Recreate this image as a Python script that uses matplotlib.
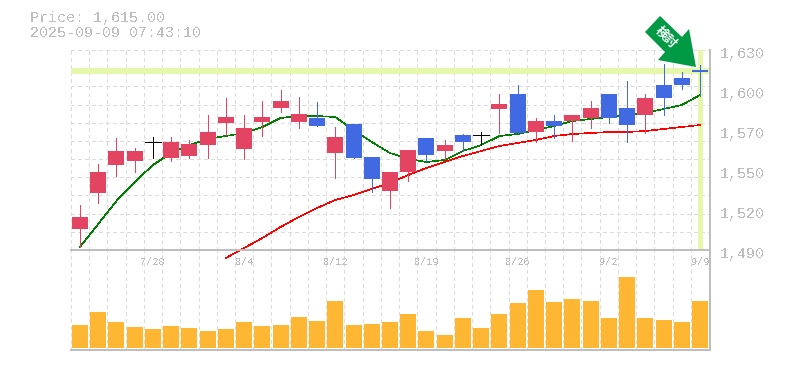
"""
Candlestick chart with moving averages and a volume panel
"""

import numpy as np
import matplotlib
matplotlib.use('Agg')
import matplotlib.pyplot as plt
from matplotlib.patches import Polygon
from matplotlib.transforms import ScaledTranslation

# -------------- data --------------
opens = [1504.7, 1529.9, 1549.5, 1552.3, 1565.6, 1554.4, 1555.8, 1563.5, 1578.9, 1560.7,
         1579.6, 1589.4, 1579.6, 1582.4, 1557.9, 1578.2, 1555.1, 1531.3, 1544.6, 1568.4,
         1559.3, 1570.5, 1570.5, 1588.7, 1599.2, 1572.6, 1580.3, 1580.3, 1582.4, 1599.2,
         1589.4, 1584.5, 1605.5, 1610.4, 1616.0]
highs = [1521.5, 1550.2, 1568.4, 1561.4, 1569.1, 1569.1, 1567.0, 1584.5, 1596.4, 1584.5,
         1594.3, 1602.0, 1597.1, 1593.6, 1576.1, 1578.2, 1555.1, 1544.6, 1560.0, 1568.4,
         1567.0, 1571.2, 1572.6, 1599.2, 1605.5, 1582.4, 1584.5, 1584.5, 1594.3, 1599.2,
         1608.3, 1599.2, 1620.2, 1614.6, 1619.5]
lows = [1492.1, 1522.9, 1541.8, 1544.6, 1554.4, 1552.3, 1554.4, 1554.4, 1570.5, 1553.7,
        1569.8, 1586.6, 1575.4, 1576.8, 1540.4, 1554.4, 1530.6, 1519.4, 1538.3, 1552.3,
        1553.7, 1559.3, 1563.5, 1571.9, 1571.9, 1565.6, 1568.4, 1566.3, 1575.4, 1578.9,
        1565.6, 1571.9, 1584.5, 1602.7, 1597.8]
closes = [1513.1, 1544.6, 1559.3, 1559.3, 1565.6, 1565.6, 1564.2, 1572.6, 1583.1, 1575.4,
          1583.1, 1594.3, 1585.2, 1576.8, 1569.1, 1554.4, 1539.7, 1544.6, 1560.0, 1556.5,
          1563.5, 1565.6, 1570.5, 1592.2, 1571.9, 1580.3, 1576.8, 1584.5, 1589.4, 1582.4,
          1577.5, 1596.4, 1596.4, 1605.5, 1614.6]
ma_short = [1492.1, 1508.2, 1524.3, 1537.6, 1549.5, 1557.9, 1563.5, 1567.7, 1569.8, 1571.9,
            1576.1, 1582.4, 1583.8, 1583.8, 1583.1, 1574.0, 1565.6, 1557.9, 1553.7, 1551.6,
            1553.0, 1559.3, 1563.5, 1569.8, 1571.2, 1574.0, 1576.8, 1580.3, 1581.7, 1583.1,
            1584.5, 1585.9, 1588.7, 1591.5, 1598.5]
ma_long = [1484.4, 1491.4, 1498.4, 1506.1, 1513.1, 1519.4, 1525.0, 1528.5, 1532.7, 1536.9,
           1542.5, 1547.4, 1551.6, 1555.8, 1559.3, 1562.8, 1564.9, 1567.0, 1569.8, 1571.2,
           1571.9, 1572.6, 1572.6, 1573.3, 1574.7, 1576.1, 1577.5]
ma_long_start = 8
volume = [23, 36, 26, 21, 19, 22, 20, 17, 19, 26, 22, 23, 31, 27, 47, 23, 24, 26,
          34, 17, 13, 30, 20, 34, 45, 58, 46, 49, 47, 30, 71, 30, 28, 26, 47]
price_ticks = [1490, 1518, 1546, 1574, 1602, 1630]
price_labels = ['1,490', '1,520', '1,550', '1,570', '1,600', '1,630']
date_ticks = [4, 9, 14, 19, 24, 29, 34]
date_labels = ['7/28', '8/4', '8/12', '8/19', '8/26', '9/2', '9/9']
last_price = 1615

# -------------- styles --------------
W, H = 785, 370
RED = '#E24462'
BLUE = '#4169E1'
GREY = '#BEBEBE'
GRID = '#DCDCDC'
HILITE = '#E4F7AA'
THIN = 0.72  # 1 pixel at 100 dpi
MA_LW = 0.45  # non antialiased curves come out heavier than their width

plt.rcParams['font.family'] = ['Liberation Mono', 'DejaVu Sans Mono']
plt.rcParams['text.antialiased'] = False
plt.rcParams['lines.antialiased'] = False
plt.rcParams['patch.antialiased'] = False


def px_axes(fig, left, top, right, bottom):
    return fig.add_axes([left / W, 1 - bottom / H, (right - left) / W, (bottom - top) / H])


def main():
    fig = plt.figure(figsize=(W / 100, H / 100), dpi=100)
    ax = px_axes(fig, 70.5, 50, 709.5, 250)
    vol = px_axes(fig, 70.5, 250, 709.5, 350)

    xs = np.arange(len(closes))
    for a in (ax, vol):
        a.set_xlim(-0.52, 34.52)
        a.patch.set_visible(False)
        a.set_axisbelow(True)
        a.set_xticks(np.r_[xs - 0.5, 34.5], minor=True)
        a.set_xticks([])
        a.grid(True, which='minor', axis='x', color=GRID, lw=THIN, ls=(0, (4, 3)))
        a.tick_params(which='both', length=0)
        for s in a.spines.values():
            s.set_color(GREY)
            s.set_linewidth(1.1)
    ax.set_zorder(2)

    # price panel
    ax.set_ylim(1490, 1630)
    ax.set_yticks(np.linspace(1490, 1630, 12))
    ax.grid(True, axis='y', color=GRID, lw=THIN, ls=(0, (4, 3)))
    ax.set_yticklabels([])
    ax.spines['top'].set_visible(False)
    ax.spines['left'].set_visible(False)

    ax.axhline(last_price, color=HILITE, lw=3, zorder=1)
    ax.axvline(xs[-1], color=HILITE, lw=2.2, zorder=1)

    ax.plot(xs, ma_short, color='#008000', lw=MA_LW, zorder=2)
    ax.plot(xs[ma_long_start:], ma_long, color='#FF0000', lw=MA_LW, zorder=2, clip_on=False)

    for x, o, h, l, c in zip(xs, opens, highs, lows, closes):
        color = 'black' if o == c else (RED if c > o else BLUE)
        ax.vlines(x, l, h, color=color, lw=THIN, zorder=3)
        if o == c:
            ax.hlines(c, x - 0.44, x + 0.44, color=color, lw=THIN, zorder=3)
        else:
            ax.bar(x, abs(c - o), bottom=min(o, c), width=0.88, color=color, zorder=4)

    # right hand labels sit a little under their tick
    label_shift = ScaledTranslation(10.5 / 100, -4 / 100, fig.dpi_scale_trans)
    for v, label in zip(price_ticks, price_labels):
        ax.text(1, v, label, transform=ax.get_yaxis_transform() + label_shift,
                color=GREY, fontsize=10.8, va='center', ha='left', clip_on=False)

    # volume panel
    vol.set_ylim(-2, 98)
    vol.set_yticks([])
    vol.bar(xs, volume, width=0.88, color='#FFB733', zorder=3)
    vol.spines['left'].set_visible(False)
    for x, label in zip(date_ticks, date_labels):
        vol.annotate(label, xy=(x, 1), xycoords=('data', 'axes fraction'),
                     xytext=(0, -12), textcoords='offset pixels',
                     ha='center', va='center', color=GREY, fontsize=7.4)

    # header
    fig.text(30 / W, 1 - 18 / H, 'Price: 1,615.00', color=GREY, fontsize=10.8, va='center')
    fig.text(30 / W, 1 - 33 / H, '2025-09-09 07:43:10', color=GREY, fontsize=10.8, va='center')

    # arrow marker pointing at the latest price
    arrow_px = [(660, 16), (645, 32), (665, 52), (658, 60), (696, 67), (689, 29), (682, 37)]
    arrow = Polygon([(x / W, 1 - y / H) for x, y in arrow_px], closed=True,
                    transform=fig.transFigure, facecolor='#009944', edgecolor='none',
                    zorder=10, antialiased=True)
    fig.add_artist(arrow)
    fig.text(666 / W, 1 - 38 / H, '検討', color='white', fontsize=9, fontweight='bold',
             family=['Noto Sans CJK JP', 'DejaVu Sans'], rotation=-45,
             rotation_mode='anchor', ha='center', va='center', zorder=11, antialiased=True)

    fig.savefig('out.png', dpi=100)


if __name__ == '__main__':
    main()
